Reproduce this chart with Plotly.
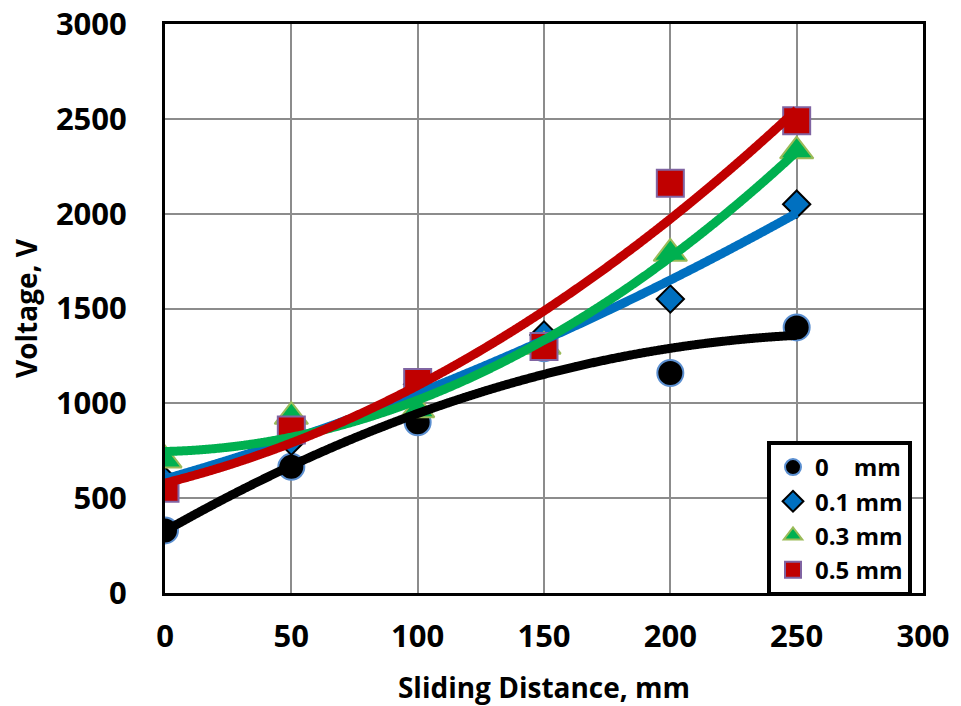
import numpy as np
import plotly.graph_objects as go

distance = [0, 50, 100, 150, 200, 250]
v_0mm = [330, 665, 900, 1290, 1160, 1400]
v_01mm = [590, 800, 1100, 1360, 1550, 2050]
v_03mm = [700, 930, 965, 1300, 1790, 2330]
v_05mm = [552, 860, 1110, 1300, 2160, 2490]

series = [
    ("0\u00a0\u00a0\u00a0\u00a0mm", v_0mm, "circle", 26, "#000000", "#5B8FD0", "#000000"),
    ("0.1 mm", v_01mm, "diamond", 21, "#0070C0", "#000000", "#0070C0"),
    ("0.3 mm", v_03mm, "triangle-up", 29, "#00B050", "#9BBB59", "#00B050"),
    ("0.5 mm", v_05mm, "square", 27, "#C00000", "#8064A2", "#C00000"),
]

fig = go.Figure()
for name, vals, sym, size, fill, edge, _ in series:
    fig.add_trace(go.Scatter(
        x=distance, y=vals, mode="markers", name=name,
        marker=dict(symbol=sym, size=size, color=fill, line=dict(color=edge, width=2)),
    ))

xs = np.linspace(0, 250, 300)
for name, vals, sym, size, fill, edge, lc in series:
    coef = np.polyfit(distance, vals, 2)
    fig.add_trace(go.Scatter(
        x=xs, y=np.polyval(coef, xs), mode="lines", showlegend=False,
        line=dict(color=lc, width=9, shape="spline"), hoverinfo="skip",
    ))

font_family = "Open Sans"
fig.update_layout(
    width=961, height=706,
    margin=dict(l=165, r=38, t=24, b=113, autoexpand=False),
    paper_bgcolor="white", plot_bgcolor="white",
    font=dict(family=font_family, color="black"),
    showlegend=True,
    legend=dict(
        x=(912 - 165) / (923 - 165), y=(593 - 441) / (593 - 24),
        xanchor="right", yanchor="top",
        bordercolor="black", borderwidth=4, bgcolor="white",
        font=dict(family=font_family, size=24, color="black", weight="bold"),
        tracegroupgap=0, itemsizing="trace", itemwidth=34,
    ),
    xaxis=dict(
        range=[0, 300], dtick=50, tick0=0, automargin=False,
        showgrid=True, gridcolor="#8C8C8C", gridwidth=1.5,
        showline=True, linecolor="black", linewidth=3, mirror=True,
        ticks="", ticklabelstandoff=14, ticklabeloverflow="allow",
        tickfont=dict(family=font_family, size=31, color="black", weight="bold"),
        title=dict(text="Sliding Distance, mm", standoff=24,
                   font=dict(family=font_family, size=28, color="black", weight="bold")),
        zeroline=False,
    ),
    yaxis=dict(
        range=[0, 3000], dtick=500, tick0=0, automargin=False,
        showgrid=True, gridcolor="#8C8C8C", gridwidth=1.5,
        showline=True, linecolor="black", linewidth=3, mirror=True,
        ticks="", ticklabelstandoff=29, ticklabeloverflow="allow",
        tickfont=dict(family=font_family, size=31, color="black", weight="bold"),
        title=dict(text="Voltage, V", standoff=11,
                   font=dict(family=font_family, size=28, color="black", weight="bold")),
        zeroline=False,
    ),
)

fig.write_html(
    "out.html",
    config={"displayModeBar": False},
    post_script="document.body.style.margin='0';document.body.style.overflow='hidden';",
)
